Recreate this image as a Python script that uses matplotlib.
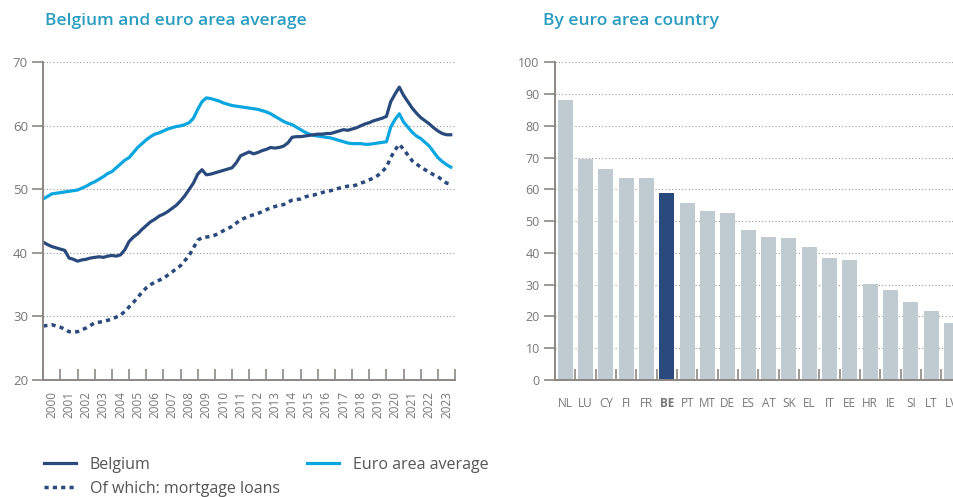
import numpy as np
import matplotlib.pyplot as plt
from matplotlib.ticker import FixedLocator, NullFormatter, FixedFormatter

# quarterly data, 2000Q1 .. 2023Q4
years = list(range(2000, 2024))
belgium = [
    41.7, 41.3, 41.0, 40.8,  40.6, 40.4, 39.2, 39.0,  38.7, 38.9, 39.0, 39.2,
    39.3, 39.4, 39.3, 39.5,  39.6, 39.5, 39.7, 40.5,  41.8, 42.5, 43.0, 43.7,
    44.3, 44.9, 45.3, 45.8,  46.1, 46.5, 47.0, 47.5,  48.2, 49.0, 50.0, 51.0,
    52.4, 53.1, 52.3, 52.4,  52.6, 52.8, 53.0, 53.2,  53.4, 54.2, 55.3, 55.6,
    55.9, 55.6, 55.8, 56.1,  56.3, 56.6, 56.5, 56.6,  56.8, 57.3, 58.2, 58.3,
    58.3, 58.4, 58.5, 58.6,  58.7, 58.7, 58.8, 58.8,  59.0, 59.2, 59.4, 59.3,
    59.5, 59.7, 60.0, 60.3,  60.5, 60.8, 61.0, 61.2,  61.5, 63.8, 65.0, 66.1,
    64.8, 63.8, 62.8, 62.0,  61.3, 60.8, 60.3, 59.7,  59.2, 58.8, 58.6, 58.6,
]
euro_area = [
    48.5, 48.9, 49.3, 49.4,  49.5, 49.6, 49.7, 49.8,  49.9, 50.2, 50.5, 50.9,
    51.2, 51.6, 52.0, 52.5,  52.8, 53.4, 54.0, 54.6,  55.0, 55.8, 56.6, 57.2,
    57.8, 58.3, 58.7, 58.9,  59.2, 59.5, 59.7, 59.9,  60.0, 60.2, 60.5, 61.2,
    62.6, 63.8, 64.4, 64.3,  64.1, 63.9, 63.6, 63.4,  63.2, 63.1, 63.0, 62.9,
    62.8, 62.7, 62.6, 62.4,  62.2, 61.9, 61.5, 61.1,  60.7, 60.4, 60.2, 59.8,
    59.4, 59.0, 58.7, 58.5,  58.4, 58.3, 58.2, 58.1,  57.9, 57.7, 57.5, 57.3,
    57.2, 57.2, 57.2, 57.1,  57.1, 57.2, 57.3, 57.4,  57.5, 59.8, 61.0, 61.9,
    60.6, 59.8, 59.0, 58.4,  58.0, 57.4, 56.8, 55.9,  55.0, 54.4, 53.9, 53.5,
]
mortgage = [
    28.5, 28.6, 28.7, 28.5,  28.3, 28.0, 27.6, 27.6,  27.6, 27.9, 28.2, 28.6,
    29.0, 29.1, 29.2, 29.4,  29.6, 29.9, 30.2, 30.8,  31.5, 32.2, 33.0, 33.8,
    34.5, 35.0, 35.4, 35.7,  36.0, 36.5, 37.0, 37.5,  38.0, 38.8, 39.6, 40.8,
    42.0, 42.4, 42.5, 42.6,  42.8, 43.1, 43.5, 43.8,  44.2, 44.7, 45.2, 45.5,
    45.8, 46.0, 46.2, 46.5,  46.8, 47.1, 47.3, 47.5,  47.6, 48.0, 48.3, 48.4,
    48.5, 48.8, 49.0, 49.1,  49.3, 49.5, 49.7, 49.8,  50.0, 50.2, 50.4, 50.5,
    50.5, 50.7, 51.0, 51.2,  51.5, 51.8, 52.2, 52.8,  53.5, 55.0, 56.2, 57.1,
    56.3, 55.4, 54.5, 54.0,  53.5, 53.1, 52.7, 52.3,  52.0, 51.5, 51.0, 50.8,
]

countries = ["NL", "LU", "CY", "FI", "FR", "BE", "PT", "MT", "DE", "ES",
             "AT", "SK", "EL", "IT", "EE", "HR", "IE", "SI", "LT", "LV"]
country_values = [88.0, 69.5, 66.3, 63.7, 63.7, 59.0, 55.8, 53.1, 52.6, 47.3,
                  45.1, 44.6, 42.0, 38.3, 37.8, 30.3, 28.2, 24.4, 21.8, 18.1]

NAVY = "#2a4a7d"
CYAN = "#0aa6e0"
BAR = "#bfcbd1"
TITLE = "#2a9cc0"
AXIS = "#8c8782"
TXT = "#777777"

plt.rcParams["font.family"] = ["Open Sans", "DejaVu Sans"]

fig = plt.figure(figsize=(9.54, 4.97), dpi=100)

# ---- left: time series
ax1 = fig.add_axes([0.0454, 0.2354, 0.4316, 0.6392])
t = [y + q / 4 for y in years for q in range(4)]
ax1.plot(t, euro_area, color=CYAN, lw=2.3, label="Euro area average")
ax1.plot(t, mortgage, color=NAVY, lw=2.5, ls=(0, (1.2, 1.2)), label="Of which: mortgage loans")
ax1.plot(t, belgium, color=NAVY, lw=2.3, label="Belgium")
ax1.set_xlim(2000, 2024)
ax1.set_ylim(20, 70)
ax1.set_yticks(range(20, 71, 10))
ax1.xaxis.set_major_locator(FixedLocator(range(2000, 2025)))
ax1.xaxis.set_major_formatter(NullFormatter())
ax1.xaxis.set_minor_locator(FixedLocator([y + 0.5 for y in years]))
ax1.xaxis.set_minor_formatter(FixedFormatter([str(y) for y in years]))
ax1.tick_params(axis="x", which="major", direction="in", length=8, color=AXIS, width=1.2)
ax1.tick_params(axis="x", which="minor", length=0, labelsize=8.5, labelcolor=TXT,
                labelrotation=90, pad=8)
ax1.tick_params(axis="y", direction="out", length=8, color=AXIS, width=1.2,
                labelsize=9.5, labelcolor=TXT, pad=3)
ax1.grid(axis="y", color="#999999", ls=(0, (1, 2)), lw=0.8)
for s in ["top", "right"]:
    ax1.spines[s].set_visible(False)
for s in ["left", "bottom"]:
    ax1.spines[s].set_color(AXIS)
    ax1.spines[s].set_linewidth(1.4)
fig.text(0.047, 0.958, "Belgium and euro area average", color=TITLE, fontsize=12.5,
         fontweight="semibold", va="center")

# ---- right: bars by country
ax2 = fig.add_axes([0.5818, 0.2354, 0.4347, 0.6392])
x = np.arange(len(countries))
colors = [NAVY if c == "BE" else BAR for c in countries]
ax2.bar(x, country_values, width=0.74, color=colors, zorder=2)
ax2.set_xlim(-0.5, 19.9)
ax2.set_ylim(0, 100)
ax2.set_yticks(range(0, 101, 10))
ax2.set_xticks(x)
ax2.set_xticklabels(countries)
for lab in ax2.get_xticklabels():
    if lab.get_text() == "BE":
        lab.set_fontweight("bold")
        lab.set_color("#555555")
ax2.set_xticks(x[:-1] + 0.5, minor=True)
ax2.tick_params(axis="x", which="major", length=0, labelsize=8.5, labelcolor=TXT, pad=12)
ax2.tick_params(axis="x", which="minor", direction="in", length=8, color=AXIS, width=1.2)
ax2.tick_params(axis="y", direction="out", length=8, color=AXIS, width=1.2,
                labelsize=9, labelcolor=TXT, pad=3)
ax2.grid(axis="y", color="#999999", ls=(0, (1, 2)), lw=0.8, zorder=0)
ax2.set_axisbelow(True)
for s in ["top", "right"]:
    ax2.spines[s].set_visible(False)
for s in ["left", "bottom"]:
    ax2.spines[s].set_color(AXIS)
    ax2.spines[s].set_linewidth(1.4)
fig.text(0.569, 0.958, "By euro area country", color=TITLE, fontsize=12.5,
         fontweight="semibold", va="center")

# ---- legend
h, l = ax1.get_legend_handles_labels()
order = [2, 1, 0]
leg = fig.legend([h[i] for i in order], [l[i] for i in order], ncol=2,
                 loc="upper left", bbox_to_anchor=(0.039, 0.094), frameon=False,
                 fontsize=11.5, labelcolor="#555555", handlelength=2.0,
                 columnspacing=1.7, handletextpad=0.9, labelspacing=0.5,
                 borderaxespad=0)

fig.savefig("out.png", dpi=100)
